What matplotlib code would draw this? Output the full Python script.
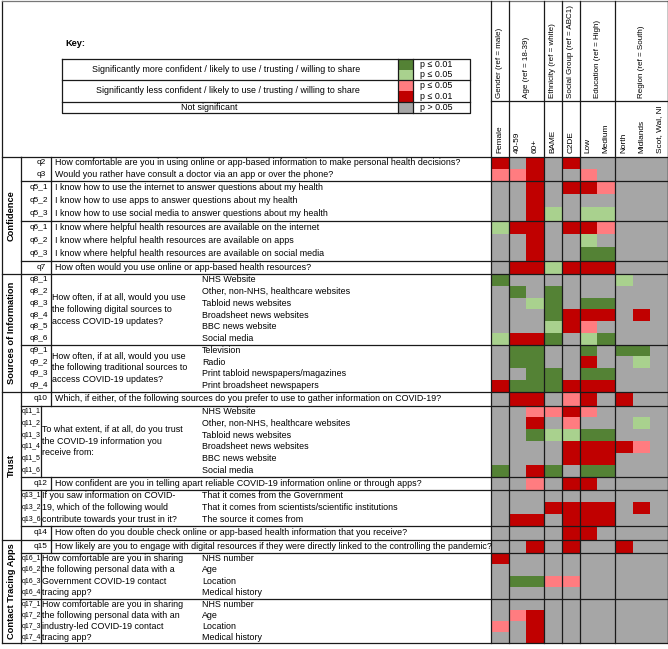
import matplotlib
matplotlib.use("Agg")
import matplotlib.pyplot as plt
from matplotlib.colors import ListedColormap, BoundaryNorm
import numpy as np

plt.rcParams['font.family'] = ['Liberation Sans', 'DejaVu Sans']

# ---------------- data ----------------
codes = ["q2", "q3", "q5_1", "q5_2", "q5_3", "q6_1", "q6_2", "q6_3", "q7",
         "q8_1", "q8_2", "q8_3", "q8_4", "q8_5", "q8_6",
         "q9_1", "q9_2", "q9_3", "q9_4", "q10",
         "q11_1", "q11_2", "q11_3", "q11_4", "q11_5", "q11_6", "q12",
         "q13_1", "q13_2", "q13_6", "q14", "q15",
         "q16_1", "q16_2", "q16_3", "q16_4", "q17_1", "q17_2", "q17_3", "q17_4"]

labels = [
    "How comfortable are you in using online or app-based information to make personal health decisions?",
    "Would you rather have consult a doctor via an app or over the phone?",
    "I know how to use the internet to answer questions about my health",
    "I know how to use apps to answer questions about my health",
    "I know how to use social media to answer questions about my health",
    "I know where helpful health resources are available on the internet",
    "I know where helpful health resources are available on apps",
    "I know where helpful health resources are available on social media",
    "How often would you use online or app-based health resources?",
    "NHS Website", "Other, non-NHS, healthcare websites", "Tabloid news websites",
    "Broadsheet news websites", "BBC news website", "Social media",
    "Television", "Radio", "Print tabloid newspapers/magazines", "Print broadsheet newspapers",
    "Which, if either, of the following sources do you prefer to use to gather information on COVID-19?",
    "NHS Website", "Other, non-NHS, healthcare websites", "Tabloid news websites",
    "Broadsheet news websites", "BBC news website", "Social media",
    "How confident are you in telling apart reliable COVID-19 information online or through apps?",
    "That it comes from the Government", "That it comes from scientists/scientific institutions",
    "The source it comes from",
    "How often do you double check online or app-based health information that you receive?",
    "How likely are you to engage with digital resources if they were directly linked to the controlling the pandemic?",
    "NHS number", "Age", "Location", "Medical history",
    "NHS number", "Age", "Location", "Medical history",
]

# block index -> stem text
stems = {
    4: "How often, if at all, would you use\nthe following digital sources to\naccess COVID-19 updates?",
    5: "How often, if at all, would you use\nthe following traditional sources to\naccess COVID-19 updates?",
    7: "To what extent, if at all, do you trust\nthe COVID-19 information you\nreceive from:",
    9: "If you saw information on COVID-\n19, which of the following would\ncontribute towards your trust in it?",
    12: "How comfortable are you in sharing\nthe following personal data with a\nGovernment COVID-19 contact\ntracing app?",
    13: "How comfortable are you in sharing\nthe following personal data with an\nindustry-led COVID-19 contact\ntracing app?",
}
block_rows = [2, 3, 3, 1, 6, 4, 1, 6, 1, 3, 1, 1, 4, 4]
sections = ["Confidence", "Sources of Information", "Trust", "Contact Tracing Apps"]
section_blocks = [4, 2, 5, 3]

columns = ["Female", "40-59", "60+", "BAME", "C2DE", "Low", "Medium",
           "North", "Midlands", "Scot, Wal, NI"]
groups = ["Gender (ref = male)", "Age (ref = 18-39)", "Ethnicity (ref = white)",
          "Social Group (ref = ABC1)", "Education (ref = High)", "Region (ref = South)"]
group_sizes = [1, 2, 1, 1, 2, 3]

# significance codes: 2 = more (p<=0.01), 1 = more (p<=0.05), 0 = n.s.,
# -1 = less (p<=0.05), -2 = less (p<=0.01)
female     = [-2,-1,0,0,0,1,0,0,0, 2,0,0,0,0,1, 0,0,0,-2, 0, 0,0,0,0,0,2, 0, 0,0,0, 0, 0, -2,0,0,0, 0,0,-1,0]
age_40_59  = [0,-1,0,0,0,-2,0,0,-2, 0,2,0,0,0,-2, 2,2,0,2, -2, 0,0,0,0,0,0, 0, 0,0,-2, 0, 0, 0,0,2,0, 0,-1,0,0]
age_60p    = [-2,-2,-2,-2,-2,-2,-2,-2,-2, 0,0,1,0,0,-2, 2,2,2,2, -2, -1,-2,2,0,0,-2, -1, 0,0,-2, 0, -2, 0,0,2,0, 0,-2,-2,-2]
bame       = [0,0,0,0,1,0,0,0,1, 0,2,2,2,1,2, 0,0,2,2, 0, -1,0,1,0,0,2, 0, 0,-2,0, 0, 0, 0,0,-1,0, 0,0,0,0]
c2de       = [-2,0,-2,0,0,-2,0,0,-2, 0,0,0,-2,-2,0, 0,0,0,-2, -1, -2,-1,1,-2,-2,0, -2, 0,-2,-2, -2, -2, 0,0,-1,0, 0,0,0,0]
edu_low    = [0,-1,-2,0,1,-2,1,2,-2, 0,0,2,-2,-1,1, 2,-2,2,-2, -2, -1,0,2,-2,-2,2, -2, 0,-2,-2, -2, 0, 0,0,0,0, 0,0,0,0]
edu_medium = [0,0,-1,0,1,-1,0,2,-2, 0,0,2,-2,0,2, 0,0,2,-2, 0, 0,0,2,-2,-2,2, 0, 0,-2,-2, 0, 0, 0,0,0,0, 0,0,0,0]
north      = [0,0,0,0,0,0,0,0,0, 1,0,0,0,0,0, 2,0,0,0, -2, 0,0,0,-2,0,0, 0, 0,0,0, 0, -2, 0,0,0,0, 0,0,0,0]
midlands   = [0,0,0,0,0,0,0,0,0, 0,0,0,-2,0,0, 2,1,0,0, 0, 0,1,0,-1,0,0, 0, 0,-2,0, 0, 0, 0,0,0,0, 0,0,0,0]
scot_wal_ni = [0] * 40

key_texts = ["Significantly more confident / likely to use / trusting / willing to share",
             "Significantly less confident / likely to use / trusting / willing to share",
             "Not significant"]
key_p = ["p \u2264 0.01", "p \u2264 0.05", "p \u2264 0.05", "p \u2264 0.01", "p > 0.05"]

# ---------------- style ----------------
DGREEN, LGREEN, GRAY, PINK, RED = "#548235", "#a9d18e", "#a6a6a6", "#ff7c80", "#c00000"
LC = "#1a1a1a"
LW = 0.9

fig = plt.figure(figsize=(6.68, 6.49), dpi=100)
ax = fig.add_axes([0, 0, 1, 1])
ax.set_xlim(0, 668)
ax.set_ylim(649, 0)
ax.axis('off')

# fit font size so the longest question fills its cell
probe = ax.text(0, 0, labels[31], fontsize=10)
fig.canvas.draw()
FS = 10 * 432 / probe.get_window_extent().width
probe.remove()
CFS = FS * 0.93   # question codes
HFS = FS * 0.93   # header

# layout
X_LEFT, X_SEC, X_CODE_W, X_CODE_N, X_TAB = 2, 20.7, 50.7, 40.7, 491
X_ITEM = 202
X_RIGHT = 668
block_bounds = [156.7, 180.5, 220.5, 260.5, 274, 344.5, 391.5, 405.5, 476.5,
                489.7, 525.7, 539.7, 552.7, 598.7, 643.3]
row_edges = [block_bounds[0]]
for b, n in enumerate(block_rows):
    row_edges += list(np.linspace(block_bounds[b], block_bounds[b + 1], n + 1)[1:])
row_edges = np.array(row_edges)
row_c = (row_edges[:-1] + row_edges[1:]) / 2

# heatmap
data = np.array([female, age_40_59, age_60p, bame, c2de, edu_low, edu_medium,
                 north, midlands, scot_wal_ni]).T
x_edges = np.linspace(X_TAB, X_RIGHT, len(columns) + 1)
cmap = ListedColormap([RED, PINK, GRAY, LGREEN, DGREEN])
norm = BoundaryNorm([-2.5, -1.5, -0.5, 0.5, 1.5, 2.5], 5)
ax.pcolormesh(x_edges, row_edges, data, cmap=cmap, norm=norm, shading='flat')

# text table
narrow = {7, 9, 12, 13}
r = 0
for b, n in enumerate(block_rows):
    top, bot = block_bounds[b], block_bounds[b + 1]
    xline = X_CODE_N if b in narrow else X_CODE_W
    ax.plot([xline, xline], [top, bot], color=LC, lw=LW)
    for i in range(n):
        c = codes[r + i]
        if b in narrow:
            ax.text(22.0, row_c[r + i], c, fontsize=CFS * 0.86, va='center', ha='left')
        else:
            ax.text(38.5 if len(c) > 3 else 41, row_c[r + i], c, fontsize=CFS,
                    va='center', ha='center')
        if b in stems:
            ax.text(X_ITEM, row_c[r + i], labels[r + i], fontsize=FS, va='center', ha='left')
        else:
            ax.text(xline + 4, row_c[r + i], labels[r + i], fontsize=FS, va='center', ha='left')
    if b in stems:
        lines = stems[b].split("\n")
        h = (bot - top) / n
        mid = (top + bot) / 2
        for k, ln in enumerate(lines):
            y = mid + (k - (len(lines) - 1) / 2) * h
            ax.text(xline + 1.8, y, ln, fontsize=FS, va='center', ha='left')
    r += n

# horizontal block lines
for yb in block_bounds:
    ax.plot([X_SEC, X_RIGHT], [yb, yb], color=LC, lw=LW)

# sections
bi = 0
for s, nb in zip(sections, section_blocks):
    top = block_bounds[bi]
    bi += nb
    bot = block_bounds[bi]
    ax.plot([X_LEFT, X_SEC], [bot, bot], color=LC, lw=LW)
    ax.text(11.5, (top + bot) / 2, s, rotation=90, fontsize=FS * 1.05, fontweight='bold',
            ha='center', va='center')
ax.plot([X_LEFT, X_SEC], [block_bounds[0]] * 2, color=LC, lw=LW)
ax.plot([X_SEC, X_SEC], [block_bounds[0], block_bounds[-1]], color=LC, lw=LW)

# outer borders
ax.plot([X_LEFT, X_LEFT], [0.7, block_bounds[-1]], color=LC, lw=LW)
ax.plot([X_LEFT, X_RIGHT], [0.7, 0.7], color="#777777", lw=LW)
ax.plot([X_TAB, X_TAB], [0.7, block_bounds[-1]], color=LC, lw=LW)
ax.plot([X_RIGHT - 0.5, X_RIGHT - 0.5], [0.7, block_bounds[-1]], color=LC, lw=LW)

# header
Y_HDR = 101
ax.plot([X_TAB, X_RIGHT], [Y_HDR, Y_HDR], color=LC, lw=LW)
ci = 0
for g, n in zip(groups, group_sizes):
    x0, x1 = x_edges[ci], x_edges[ci + n]
    ax.text((x0 + x1) / 2, Y_HDR - 3, g, rotation=90, fontsize=HFS * 0.97,
            ha='center', va='bottom')
    for k in range(n):
        xc = (x_edges[ci + k] + x_edges[ci + k + 1]) / 2
        ax.text(xc, block_bounds[0] - 3.5, columns[ci + k], rotation=90, fontsize=HFS,
                ha='center', va='bottom')
    ci += n
    ax.plot([x1, x1], [0.7, block_bounds[-1]], color=LC, lw=LW)

# key
ax.text(65, 44, "Key:", fontsize=FS * 1.05, fontweight='bold', ha='left', va='center')
KX0, KX1, KX2, KX3 = 62, 398, 413, 470
ky = [59, 80, 101.7, 113.3]
ax.plot([KX0, KX3, KX3, KX0, KX0], [ky[0], ky[0], ky[3], ky[3], ky[0]], color=LC, lw=LW)
for yv in ky[1:3]:
    ax.plot([KX0, KX3], [yv, yv], color=LC, lw=LW)
ax.plot([KX1, KX1], [ky[0], ky[3]], color=LC, lw=LW)
ax.plot([KX2, KX2], [ky[0], ky[3]], color=LC, lw=LW)
ax.text(226, (ky[0] + ky[1]) / 2, key_texts[0], fontsize=FS, ha='center', va='center')
ax.text(228, (ky[1] + ky[2]) / 2, key_texts[1], fontsize=FS, ha='center', va='center')
ax.text(209, (ky[2] + ky[3]) / 2, key_texts[2], fontsize=FS, ha='center', va='center')
sw_edges = [ky[0], (ky[0] + ky[1]) / 2, ky[1], (ky[1] + ky[2]) / 2, ky[2], ky[3]]
sw_vals = np.array([[2], [1], [-1], [-2], [0]])
ax.pcolormesh([KX1, KX2], sw_edges, sw_vals, cmap=cmap, norm=norm, shading='flat')
for i, p in enumerate(key_p):
    ax.text(420, (sw_edges[i] + sw_edges[i + 1]) / 2, p, fontsize=FS, ha='left', va='center')

fig.savefig("out.png", dpi=100)
